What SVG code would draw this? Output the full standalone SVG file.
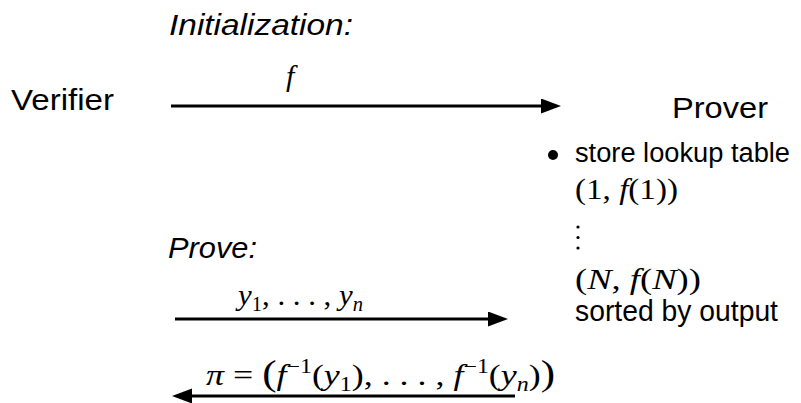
<svg xmlns="http://www.w3.org/2000/svg" width="801" height="403" viewBox="0 0 801 403">
<style>
.sans{font-family:"Liberation Sans",Arial,sans-serif;font-size:29px;fill:#000}
.it{font-style:italic}
.math{font-family:"Liberation Serif","Times New Roman",serif;font-size:30px;fill:#000}
.v{font-style:italic}
.sm{font-size:20px}
.big{font-size:36px}
.conn{stroke:#000;stroke-width:3;fill:none}
.dot{fill:#000}
</style>
<defs>
<marker id="ah" markerUnits="userSpaceOnUse" markerWidth="20" markerHeight="16" refX="10" refY="7.5" orient="auto">
<path d="M0,0 L20,7.5 L0,15 z" fill="#000"/>
</marker>
</defs>
<rect width="801" height="403" fill="#fff"/>

<g id="title-init"><text class="sans it" x="169" y="35" textLength="184" lengthAdjust="spacingAndGlyphs">Initialization:</text></g>
<g id="title-prove"><text class="sans it" x="168" y="258" textLength="89" lengthAdjust="spacingAndGlyphs">Prove:</text></g>

<g id="verifier"><text class="sans" x="11" y="110" textLength="103" lengthAdjust="spacingAndGlyphs">Verifier</text></g>

<g id="prover">
<text class="sans" x="672" y="118" textLength="96" lengthAdjust="spacingAndGlyphs">Prover</text>
<circle class="dot" cx="553" cy="155" r="5"/>
<text class="sans" x="575" y="162" style="font-size:27px" textLength="215" lengthAdjust="spacingAndGlyphs">store lookup table</text>
<text class="math" x="575" y="199" textLength="103" lengthAdjust="spacingAndGlyphs">(1, <tspan class="v">f</tspan>(1))</text>
<circle class="dot" cx="578" cy="227" r="1.6"/>
<circle class="dot" cx="578" cy="237.5" r="1.6"/>
<circle class="dot" cx="578" cy="248" r="1.6"/>
<text class="math" x="575" y="289" textLength="126" lengthAdjust="spacingAndGlyphs">(<tspan class="v">N</tspan>, <tspan class="v">f</tspan>(<tspan class="v">N</tspan>))</text>
<text class="sans" x="575" y="321" textLength="203" lengthAdjust="spacingAndGlyphs">sorted by output</text>
</g>

<g id="connectors">
<line class="conn" x1="171" y1="106" x2="551" y2="106" marker-end="url(#ah)"/>
<line class="conn" x1="175" y1="319" x2="498" y2="319" marker-end="url(#ah)"/>
<line class="conn" x1="515" y1="396" x2="182" y2="396" marker-end="url(#ah)"/>
<text class="math v" x="286" y="86">f</text>
<text class="math" x="238" y="305" textLength="125" lengthAdjust="spacingAndGlyphs"><tspan class="v">y</tspan><tspan class="sm" dy="6">1</tspan><tspan dy="-6">, . . . , </tspan><tspan class="v">y</tspan><tspan class="sm v" dy="6">n</tspan></text>
<text class="math" x="206" y="385" textLength="349" lengthAdjust="spacingAndGlyphs"><tspan class="v">π</tspan> = <tspan class="big">(</tspan><tspan class="v">f</tspan><tspan class="sm" dy="-12">−1</tspan><tspan dy="12">(</tspan><tspan class="v">y</tspan><tspan class="sm" dy="6">1</tspan><tspan dy="-6">), . . . , </tspan><tspan class="v">f</tspan><tspan class="sm" dy="-12">−1</tspan><tspan dy="12">(</tspan><tspan class="v">y</tspan><tspan class="sm v" dy="6">n</tspan><tspan dy="-6">)</tspan><tspan class="big">)</tspan></text>
</g>
</svg>
